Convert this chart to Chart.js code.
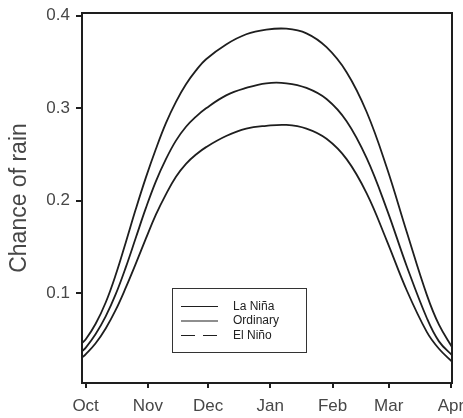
<!DOCTYPE html>
<html>
<head>
<meta charset="utf-8">
<title>Chance of rain</title>
<script src="https://cdn.jsdelivr.net/npm/chart.js@4.4.1/dist/chart.umd.min.js"></script>
<style>
  html, body { margin: 0; padding: 0; background: #fff; }
  canvas { display: block; }
</style>
</head>
<body>
<canvas id="rainChart" width="463" height="418"></canvas>
<script>
// days counted from 1 October
const days     = [-2, 0, 5, 10, 15, 20, 25, 30, 35, 40, 45, 50, 55, 60, 70, 80, 90, 100, 110, 120, 130, 140, 150, 160, 170, 176, 183];
const laNina   = [0.046, 0.050, 0.067, 0.090, 0.120, 0.155, 0.191, 0.225, 0.256, 0.284, 0.307, 0.326, 0.341, 0.353, 0.369, 0.380, 0.385, 0.386, 0.381, 0.366, 0.339, 0.296, 0.236, 0.166, 0.098, 0.066, 0.040];
const ordinary = [0.037, 0.041, 0.056, 0.075, 0.099, 0.128, 0.160, 0.192, 0.221, 0.245, 0.265, 0.280, 0.291, 0.300, 0.314, 0.322, 0.327, 0.327, 0.322, 0.310, 0.286, 0.246, 0.191, 0.129, 0.073, 0.048, 0.032];
const elNino   = [0.030, 0.034, 0.046, 0.062, 0.082, 0.106, 0.132, 0.159, 0.185, 0.207, 0.226, 0.240, 0.250, 0.258, 0.270, 0.278, 0.281, 0.282, 0.278, 0.267, 0.245, 0.208, 0.157, 0.103, 0.058, 0.040, 0.025];

const seriesNames = ['La Niña', 'Ordinary', 'El Niño'];
const monthDays   = [0, 31, 61, 92, 123, 151, 182];
const monthLabels = ['Oct', 'Nov', 'Dec', 'Jan', 'Feb', 'Mar', 'Apr'];
const rainTicks   = [0.1, 0.2, 0.3, 0.4];

const FONT = "'Liberation Sans', Arial, Helvetica, sans-serif";
const INK = '#1e1e1e';
const GREY = '#474747';

const toPoints = (vals) => days.map((d, i) => ({ x: d, y: vals[i] }));

// closes the box round the plot area (top and right side)
const frame = {
    id: 'frame',
    beforeDatasetsDraw(chart) {
        const { ctx, chartArea: a } = chart;
        ctx.save();
        ctx.strokeStyle = INK;
        ctx.lineWidth = 2;
        ctx.strokeRect(a.left, a.top, a.right - a.left, a.bottom - a.top);
        ctx.restore();
    }
};

// legend box sitting inside the plot, lower middle
const legendBox = {
    id: 'legendBox',
    afterDraw(chart) {
        const { ctx, chartArea: a } = chart;
        const left = a.left + 90, top = a.top + 275, w = 134, h = 64;
        const dashes = [[], [], [14, 8]];
        ctx.save();
        ctx.fillStyle = '#fff';
        ctx.fillRect(left, top, w, h);
        ctx.strokeStyle = '#333';
        ctx.lineWidth = 1;
        ctx.strokeRect(left + 0.5, top + 0.5, w, h);
        ctx.font = '12px ' + FONT;
        ctx.textBaseline = 'middle';
        seriesNames.forEach((name, i) => {
            const y = top + 18.5 + i * 14.5;
            ctx.strokeStyle = INK;
            ctx.lineWidth = 1.2;
            ctx.setLineDash(dashes[i]);
            ctx.beginPath();
            ctx.moveTo(left + 9, y);
            ctx.lineTo(left + 46, y);
            ctx.stroke();
            ctx.setLineDash([]);
            ctx.fillStyle = '#222';
            ctx.fillText(name, left + 61, y);
        });
        ctx.restore();
    }
};

const lineStyle = { borderColor: INK, borderWidth: 1.8, pointRadius: 0, fill: false, tension: 0.4 };

new Chart(document.getElementById('rainChart').getContext('2d'), {
    type: 'line',
    data: {
        datasets: [
            { label: seriesNames[0], data: toPoints(laNina), ...lineStyle },
            { label: seriesNames[1], data: toPoints(ordinary), ...lineStyle },
            { label: seriesNames[2], data: toPoints(elNino), ...lineStyle },
        ],
    },
    options: {
        responsive: false,
        devicePixelRatio: 1,
        animation: false,
        layout: { padding: { top: 13, right: 11, left: 0, bottom: 0 } },
        plugins: { legend: { display: false }, tooltip: { enabled: false } },
        scales: {
            x: {
                type: 'linear',
                min: -1.8,
                max: 182.5,
                afterBuildTicks: (s) => { s.ticks = monthDays.map(v => ({ value: v })); },
                afterFit: (s) => { s.height = 35; s.paddingLeft = 0; s.paddingRight = 0; },
                ticks: {
                    callback: (v) => monthLabels[monthDays.indexOf(v)],
                    font: { family: FONT, size: 17 },
                    color: GREY,
                    padding: 8,
                    maxRotation: 0,
                    autoSkip: false,
                },
                grid: { display: true, drawOnChartArea: false, drawTicks: true, tickLength: 5, color: INK, lineWidth: 2 },
                border: { display: true, color: INK, width: 2 },
            },
            y: {
                min: 0.003,
                max: 0.403,
                afterBuildTicks: (s) => { s.ticks = rainTicks.map(v => ({ value: v })); },
                afterFit: (s) => { s.width = 82; s.paddingTop = 0; s.paddingBottom = 0; },
                ticks: {
                    callback: (v) => v.toFixed(1),
                    font: { family: FONT, size: 17 },
                    color: GREY,
                    padding: 6,
                },
                grid: { display: true, drawOnChartArea: false, drawTicks: true, tickLength: 6, color: INK, lineWidth: 2 },
                border: { display: true, color: INK, width: 2 },
                title: {
                    display: true,
                    text: 'Chance of rain',
                    font: { family: FONT, size: 23 },
                    color: GREY,
                    padding: { top: 6, bottom: 0 },
                },
            },
        },
    },
    plugins: [frame, legendBox],
});
</script>
</body>
</html>
